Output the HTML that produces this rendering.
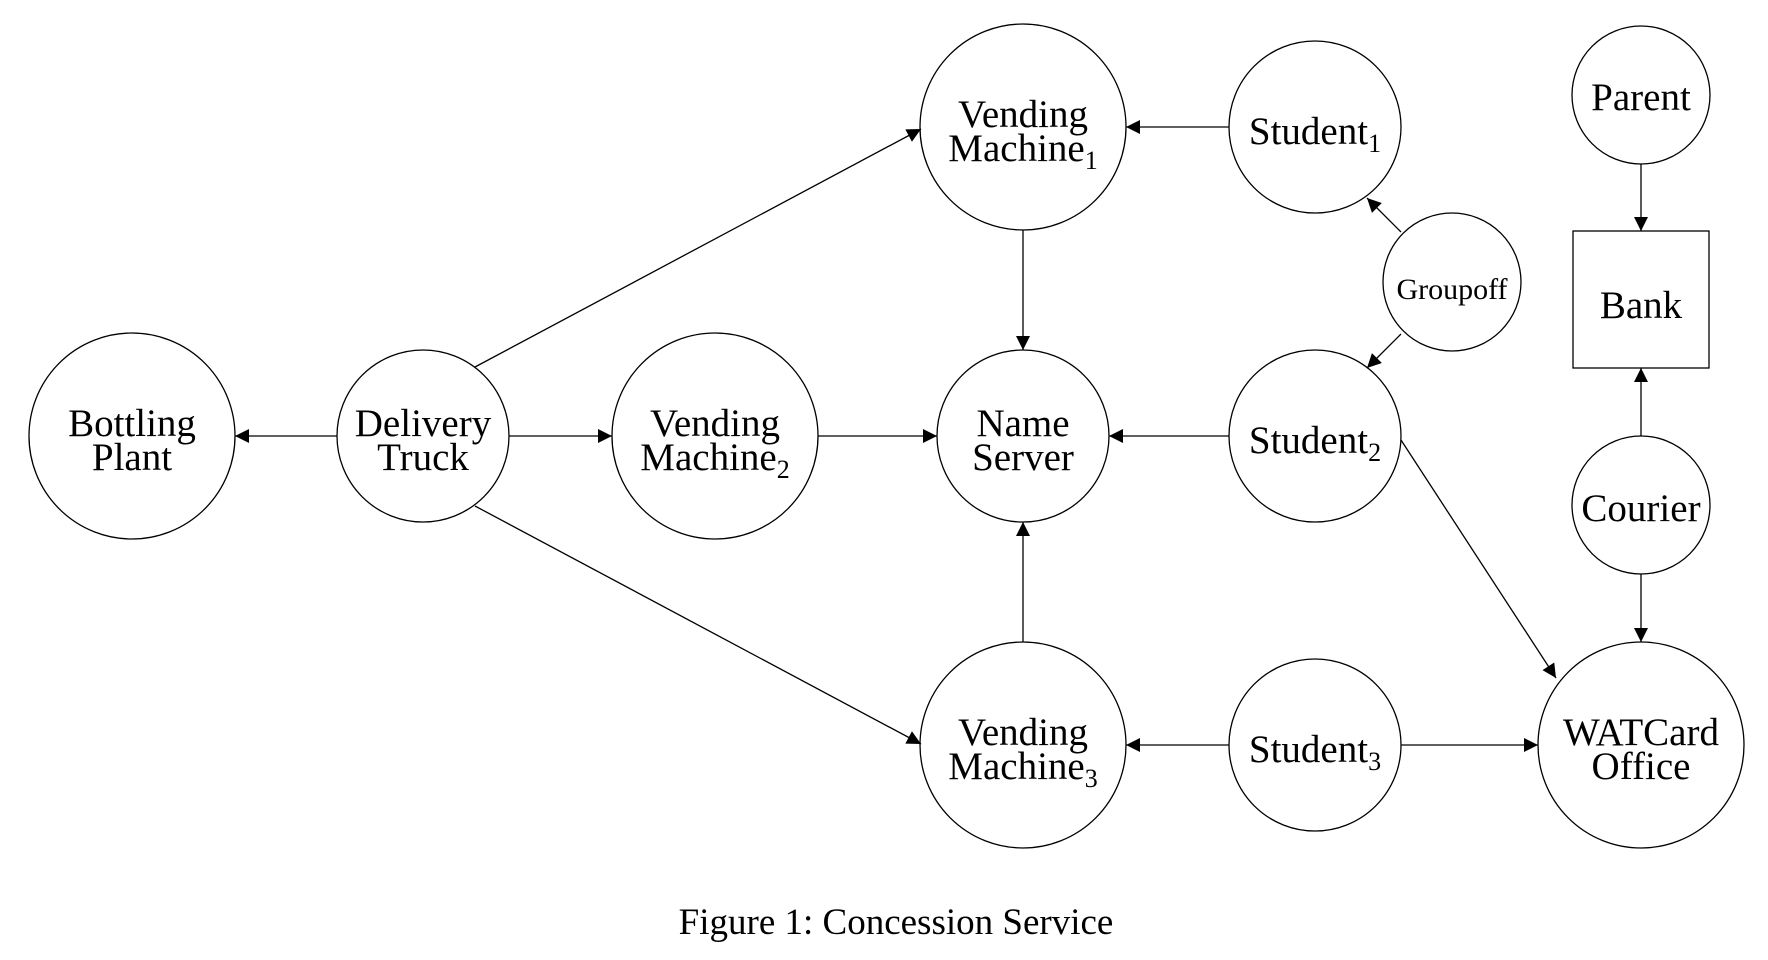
<!DOCTYPE html>
<html><head><meta charset="utf-8"><style>
html,body{margin:0;padding:0;background:#fff;}
svg{display:block;}
text{font-family:"Liberation Serif",serif;fill:#000;}
</style></head><body>
<svg width="1768" height="960" viewBox="0 0 1768 960" xmlns="http://www.w3.org/2000/svg">
<defs>
<marker id="a" viewBox="0 0 10 10" refX="10" refY="5" markerWidth="20" markerHeight="14" markerUnits="userSpaceOnUse" orient="auto">
<path d="M0,0 L10,5 L0,10 z" fill="#000"/>
</marker>
</defs>
<g stroke="#000" stroke-width="1.3" fill="none">
<circle cx="132" cy="436" r="103"/>
<circle cx="423" cy="436" r="86"/>
<circle cx="715" cy="436" r="103"/>
<circle cx="1023" cy="436" r="86"/>
<circle cx="1023" cy="127" r="103"/>
<circle cx="1023" cy="745" r="103"/>
<circle cx="1315" cy="127" r="86"/>
<circle cx="1315" cy="436" r="86"/>
<circle cx="1315" cy="745" r="86"/>
<circle cx="1452" cy="282" r="69"/>
<circle cx="1641" cy="95" r="69"/>
<rect x="1573" y="231" width="136" height="137"/>
<circle cx="1641" cy="505" r="69"/>
<circle cx="1641" cy="745" r="103"/>
</g>
<g stroke="#000" stroke-width="1.3" fill="none" marker-end="url(#a)">
<line x1="337" y1="436" x2="235" y2="436"/>
<line x1="509" y1="436" x2="612" y2="436"/>
<line x1="475" y1="367" x2="921" y2="129"/>
<line x1="475" y1="506" x2="921" y2="744"/>
<line x1="818" y1="436" x2="937" y2="436"/>
<line x1="1023" y1="230" x2="1023" y2="350"/>
<line x1="1023" y1="642" x2="1023" y2="522"/>
<line x1="1229" y1="127" x2="1126" y2="127"/>
<line x1="1229" y1="436" x2="1109" y2="436"/>
<line x1="1229" y1="745" x2="1126" y2="745"/>
<line x1="1401" y1="745" x2="1538" y2="745"/>
<line x1="1401" y1="440" x2="1556" y2="678"/>
<line x1="1401" y1="232" x2="1367" y2="198"/>
<line x1="1401" y1="334" x2="1367" y2="368"/>
<line x1="1641" y1="164" x2="1641" y2="231"/>
<line x1="1641" y1="436" x2="1641" y2="368"/>
<line x1="1641" y1="574" x2="1641" y2="642"/>
</g>
<g font-size="39" text-anchor="middle">
<text x="132" y="436">Bottling</text>
<text x="132" y="470">Plant</text>
<text x="423" y="436">Delivery</text>
<text x="423" y="470">Truck</text>
<text x="715" y="436">Vending</text>
<text x="715" y="470">Machine<tspan font-size="26" dy="8">2</tspan></text>
<text x="1023" y="436">Name</text>
<text x="1023" y="470">Server</text>
<text x="1023" y="127">Vending</text>
<text x="1023" y="161">Machine<tspan font-size="26" dy="8">1</tspan></text>
<text x="1023" y="745">Vending</text>
<text x="1023" y="779">Machine<tspan font-size="26" dy="8">3</tspan></text>
<text x="1315" y="144">Student<tspan font-size="26" dy="8">1</tspan></text>
<text x="1315" y="453">Student<tspan font-size="26" dy="8">2</tspan></text>
<text x="1315" y="762">Student<tspan font-size="26" dy="8">3</tspan></text>
<text x="1641" y="110">Parent</text>
<text x="1641" y="318">Bank</text>
<text x="1641" y="521">Courier</text>
<text x="1641" y="745">WATCard</text>
<text x="1641" y="779">Office</text>
</g>
<text x="1452" y="299" font-size="30" text-anchor="middle">Groupoff</text>
<text x="896" y="934" font-size="37" text-anchor="middle">Figure 1: Concession Service</text>
</svg>
</body></html>
